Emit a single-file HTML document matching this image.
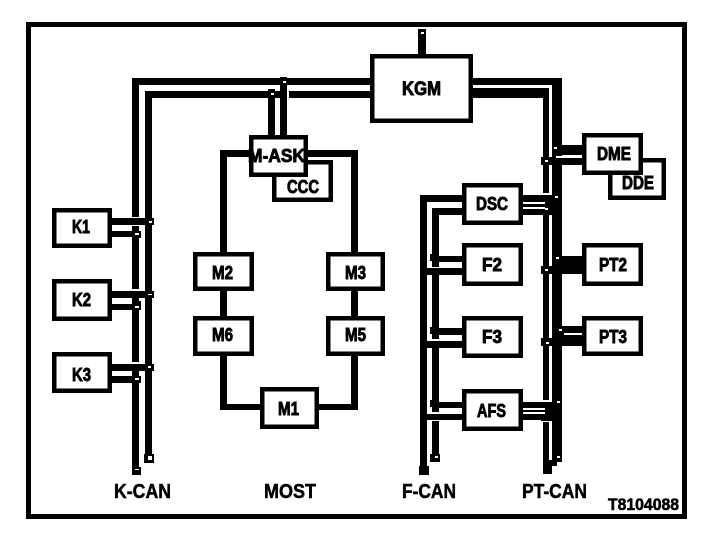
<!DOCTYPE html>
<html><head><meta charset="utf-8"><style>
html,body{margin:0;padding:0;background:#fff;width:704px;height:542px;overflow:hidden}
svg{display:block}
text{font-family:"Liberation Sans",sans-serif;font-weight:bold;fill:#000;stroke:#000;stroke-width:.9}
</style></head><body>
<svg width="704" height="542" viewBox="0 0 704 542" xmlns="http://www.w3.org/2000/svg" shape-rendering="crispEdges">
<rect x="28.5" y="24.5" width="656" height="492" fill="#fff" stroke="#000" stroke-width="5"/>
<g fill="#000">
<!-- K-CAN -->
<rect x="132" y="78" width="238" height="7"/>
<rect x="145" y="91" width="141" height="7"/>
<rect x="289" y="91" width="81" height="7"/>
<rect x="132" y="78" width="7" height="139"/>
<rect x="132" y="226" width="7" height="63"/>
<rect x="132" y="298" width="7" height="64"/>
<rect x="132" y="369" width="7" height="101"/>
<rect x="145" y="91" width="7" height="368"/>
<rect x="268" y="90" width="7" height="45"/>
<rect x="280" y="77" width="7" height="58"/>
<rect x="112" y="218" width="41" height="7"/><rect x="112" y="231" width="28" height="6"/>
<rect x="112" y="291" width="41" height="7"/><rect x="112" y="304" width="28" height="6"/>
<rect x="112" y="364" width="41" height="7"/><rect x="112" y="376" width="28" height="7"/>
<!-- MOST -->
<rect x="220" y="150" width="137" height="7"/>
<rect x="220" y="150" width="7" height="260"/>
<rect x="351" y="150" width="7" height="260"/>
<rect x="220" y="404" width="138" height="6"/>
<!-- KGM -->
<rect x="418" y="32" width="8" height="22"/>
<!-- PT-CAN -->
<rect x="473" y="78" width="89" height="7"/>
<rect x="473" y="88" width="76" height="10"/>
<rect x="552" y="78" width="10" height="382"/>
<rect x="543" y="90" width="6" height="103"/>
<rect x="543" y="215" width="6" height="185"/>
<rect x="543" y="422" width="6" height="48"/>
<rect x="552" y="145" width="30" height="10"/>
<rect x="523" y="195" width="36" height="20"/>
<rect x="552" y="256" width="30" height="17"/>
<rect x="552" y="326" width="30" height="19"/>
<rect x="523" y="402" width="36" height="18"/>
<!-- F-CAN -->
<rect x="420" y="195" width="7" height="279"/>
<rect x="432" y="208" width="7" height="59"/>
<rect x="432" y="275" width="7" height="64"/>
<rect x="432" y="348" width="7" height="64"/>
<rect x="432" y="421" width="7" height="37"/>
<rect x="420" y="195" width="42" height="7"/>
<rect x="432" y="208" width="30" height="7"/>
<rect x="432" y="256" width="30" height="6"/>
<rect x="420" y="268" width="42" height="7"/>
<rect x="432" y="328" width="30" height="7"/>
<rect x="420" y="341" width="42" height="7"/>
<rect x="432" y="402" width="30" height="6"/>
<rect x="420" y="414" width="42" height="6"/>
<!-- terminal / junction nodes -->
<rect x="147" y="218" width="7" height="7"/><rect x="134" y="231" width="7" height="7"/>
<rect x="147" y="291" width="7" height="7"/><rect x="134" y="301" width="7" height="9"/>
<rect x="147" y="364" width="7" height="7"/><rect x="134" y="376" width="7" height="7"/>
<rect x="144" y="454" width="10" height="9"/><rect x="132" y="467" width="9" height="8"/>
<rect x="281" y="77" width="6" height="8"/><rect x="268" y="89" width="7" height="8"/>
<rect x="418" y="29" width="8" height="9"/>
<rect x="548" y="142" width="8" height="8"/>
<rect x="552" y="194" width="10" height="8"/>
<rect x="552" y="254" width="10" height="8"/>
<rect x="552" y="399" width="10" height="8"/>
<rect x="552" y="454" width="10" height="8"/>
<rect x="543" y="466" width="9" height="8"/>
<rect x="430" y="254" width="9" height="7"/><rect x="430" y="327" width="9" height="7"/>
<rect x="430" y="400" width="9" height="7"/><rect x="430" y="454" width="10" height="8"/>
<rect x="419" y="466" width="10" height="9"/>
</g>
<g fill="#fff">
<rect x="476" y="85" width="76" height="2"/>
<rect x="549" y="88" width="3" height="105"/>
<rect x="549" y="215" width="3" height="185"/>
<rect x="549" y="422" width="3" height="38"/>
</g>
<g fill="#000">
<!-- stubs that bridge the white channel -->
<rect x="541" y="157" width="41" height="8"/>
<rect x="541" y="266" width="41" height="8"/>
<rect x="541" y="338" width="41" height="8"/>
<rect x="541" y="204" width="20" height="11"/>
<rect x="541" y="411" width="20" height="10"/>
<rect x="549" y="460" width="8" height="6"/>
</g>
<g fill="#fff">
<rect x="556" y="156" width="26" height="2"/>
<rect x="523" y="202" width="22" height="2"/>
<rect x="523" y="207" width="22" height="2"/>
<rect x="564" y="333" width="18" height="2"/>
<rect x="523" y="408" width="22" height="2"/>
<rect x="523" y="412" width="22" height="2"/>
<rect x="149" y="221" width="3" height="2"/><rect x="135" y="233" width="4" height="2"/>
<rect x="148" y="294" width="4" height="1"/><rect x="135" y="306" width="4" height="2"/>
<rect x="148" y="366" width="3" height="2"/><rect x="135" y="378" width="4" height="2"/>
<rect x="148" y="456" width="4" height="4"/><rect x="135" y="469" width="4" height="1"/>
<rect x="283" y="81" width="3" height="2"/><rect x="271" y="93" width="3" height="2"/>
<rect x="421" y="32" width="3" height="2"/>
<rect x="557" y="401" width="3" height="2"/><rect x="557" y="456" width="3" height="2"/>
<rect x="435" y="456" width="3" height="2"/>
<rect x="545" y="160" width="3" height="2"/>
<rect x="554" y="147" width="3" height="2"/>
<rect x="555" y="196" width="3" height="2"/>
<rect x="545" y="208" width="3" height="2"/>
<rect x="556" y="257" width="3" height="2"/>
<rect x="545" y="269" width="3" height="2"/>
<rect x="559" y="329" width="3" height="2"/>
<rect x="546" y="342" width="3" height="2"/>
</g>
<g fill="#fff" stroke="#000" stroke-width="4.5">
<rect x="54.2" y="210.2" width="55.6" height="35.6"/>
<rect x="54.2" y="281.2" width="55.6" height="37.6"/>
<rect x="54.2" y="354.2" width="55.6" height="36.6"/>
<rect x="274.2" y="162.2" width="56.6" height="37.6"/>
<rect x="251.2" y="137.2" width="54.6" height="37.6"/>
<rect x="195.2" y="254.2" width="56.6" height="34.6"/>
<rect x="328.2" y="254.2" width="54.6" height="34.6"/>
<rect x="195.2" y="318.2" width="56.6" height="35.6"/>
<rect x="328.2" y="318.2" width="54.6" height="35.6"/>
<rect x="262.2" y="389.2" width="54.6" height="37.6"/>
<rect x="372.2" y="56.2" width="98.6" height="64.6"/>
<rect x="610.2" y="160.2" width="53.6" height="37.6"/>
<rect x="584.2" y="135.2" width="56.6" height="37.6"/>
<rect x="464.2" y="185.2" width="56.6" height="37.6"/>
<rect x="464.2" y="245.2" width="56.6" height="38.6"/>
<rect x="464.2" y="318.2" width="56.6" height="37.6"/>
<rect x="464.2" y="391.2" width="56.6" height="37.6"/>
<rect x="584.2" y="245.2" width="56.6" height="38.6"/>
<rect x="584.2" y="318.2" width="56.6" height="35.6"/>
</g>
<g font-size="18" shape-rendering="auto">
<text x="72" y="233" textLength="18" lengthAdjust="spacingAndGlyphs">K1</text>
<text x="72" y="306" textLength="19" lengthAdjust="spacingAndGlyphs">K2</text>
<text x="72" y="381" textLength="19" lengthAdjust="spacingAndGlyphs">K3</text>
<text x="248" y="162" textLength="57" lengthAdjust="spacingAndGlyphs">M-ASK</text>
<text x="287" y="193" textLength="32" lengthAdjust="spacingAndGlyphs">CCC</text>
<text x="212" y="279" textLength="21" lengthAdjust="spacingAndGlyphs">M2</text>
<text x="345" y="279" textLength="21" lengthAdjust="spacingAndGlyphs">M3</text>
<text x="212" y="341" textLength="21" lengthAdjust="spacingAndGlyphs">M6</text>
<text x="345" y="341" textLength="21" lengthAdjust="spacingAndGlyphs">M5</text>
<text x="278" y="415" textLength="21" lengthAdjust="spacingAndGlyphs">M1</text>
<text x="402" y="95" font-size="19" textLength="39" lengthAdjust="spacingAndGlyphs">KGM</text>
<text x="597" y="160" textLength="34" lengthAdjust="spacingAndGlyphs">DME</text>
<text x="622" y="189" textLength="32" lengthAdjust="spacingAndGlyphs">DDE</text>
<text x="476" y="210" textLength="32" lengthAdjust="spacingAndGlyphs">DSC</text>
<text x="482" y="271" textLength="20" lengthAdjust="spacingAndGlyphs">F2</text>
<text x="482" y="343" textLength="20" lengthAdjust="spacingAndGlyphs">F3</text>
<text x="477" y="417" textLength="29" lengthAdjust="spacingAndGlyphs">AFS</text>
<text x="599" y="271" textLength="28" lengthAdjust="spacingAndGlyphs">PT2</text>
<text x="599" y="343" textLength="28" lengthAdjust="spacingAndGlyphs">PT3</text>
<text x="114" y="498" font-size="20" textLength="57" lengthAdjust="spacingAndGlyphs" style="stroke-width:.5">K-CAN</text>
<text x="264" y="498" font-size="20" textLength="52" lengthAdjust="spacingAndGlyphs" style="stroke-width:.5">MOST</text>
<text x="402" y="498" font-size="20" textLength="54" lengthAdjust="spacingAndGlyphs" style="stroke-width:.5">F-CAN</text>
<text x="522" y="498" font-size="20" textLength="65" lengthAdjust="spacingAndGlyphs" style="stroke-width:.5">PT-CAN</text>
<text x="608" y="510" font-size="17" textLength="71" lengthAdjust="spacingAndGlyphs" style="stroke-width:.6">T8104088</text>
</g>
</svg>
</body></html>
